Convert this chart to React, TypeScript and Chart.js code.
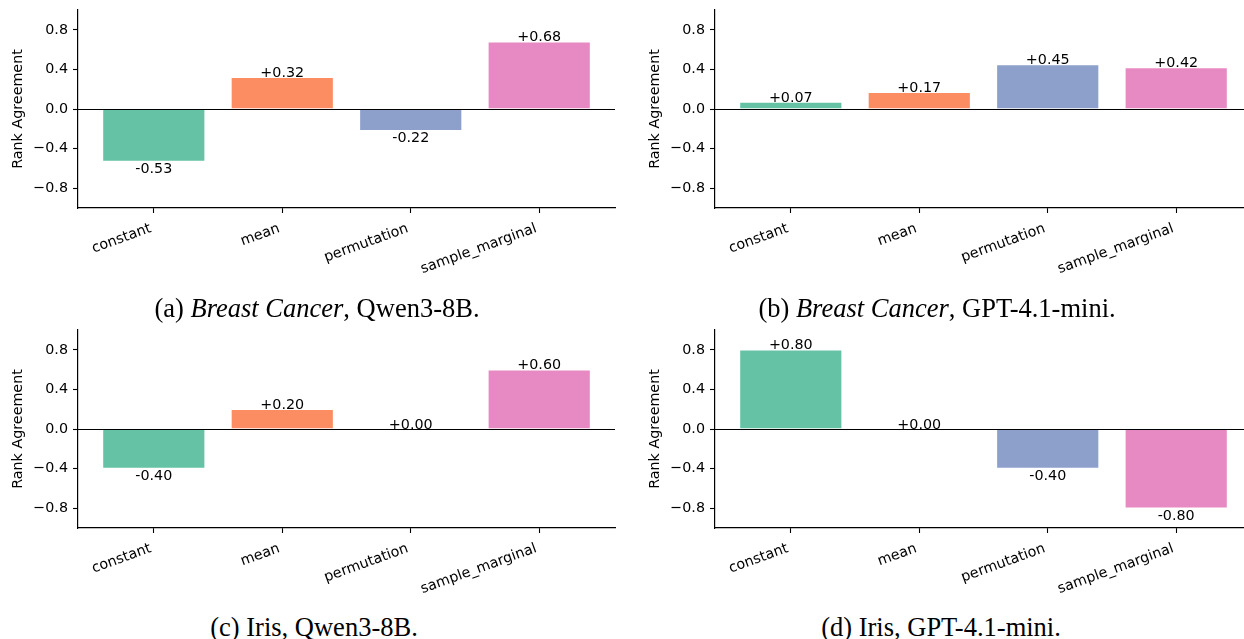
import React, { useEffect, useRef } from "react";
import { Chart, registerables } from "chart.js";

Chart.register(...registerables);

const categories = ["constant", "mean", "permutation", "sample_marginal"];
const barColors = ["#66c2a5", "#fc8d62", "#8da0cb", "#e78ac3"];
const yTicks = [-0.8, -0.4, 0, 0.4, 0.8];
const xTicks = [0, 1, 2, 3];
const breastCancerQwen = [-0.53, 0.32, -0.22, 0.68];
const breastCancerGpt = [0.07, 0.17, 0.45, 0.42];
const irisQwen = [-0.4, 0.2, 0.0, 0.6];
const irisGpt = [0.8, 0.0, -0.4, -0.8];

const FONT = '"DejaVu Sans", sans-serif';
const FS = 14.3;

const valueLabels = {
  id: "valueLabels",
  afterDatasetsDraw(chart: any) {
    const { ctx, chartArea } = chart;
    const yScale = chart.scales.y;
    const z = Math.round(yScale.getPixelForValue(0)) + 0.5;
    ctx.save();
    ctx.strokeStyle = "#000";
    ctx.lineWidth = 1.2;
    ctx.beginPath();
    ctx.moveTo(chartArea.left, z);
    ctx.lineTo(chartArea.right, z);
    ctx.stroke();
    const meta = chart.getDatasetMeta(0);
    const data = chart.data.datasets[0].data;
    ctx.font = FS + "px " + FONT;
    ctx.fillStyle = "#000";
    ctx.textAlign = "center";
    ctx.textBaseline = "alphabetic";
    meta.data.forEach((bar: any, i: number) => {
      const v = data[i].y;
      const label = v >= 0 ? "+" + v.toFixed(2) : v.toFixed(2);
      if (v >= 0) ctx.fillText(label, bar.x, bar.y - 0.5);
      else ctx.fillText(label, bar.x, bar.y + 11.5);
    });
    ctx.restore();
  },
};

function Panel({ values, left, top }: { values: number[]; left: number; top: number }) {
  const ref = useRef<HTMLCanvasElement>(null);
  useEffect(() => {
    const canvas = ref.current!;
    const chart = new Chart(canvas, {
      type: "bar",
      data: {
        datasets: [
          {
            data: values.map((v, i) => ({ x: i, y: v })),
            backgroundColor: barColors,
            borderColor: "rgba(255,255,255,0.6)",
            borderWidth: 0.8,
            categoryPercentage: 1,
            barPercentage: 0.8,
          } as any,
        ],
      },
      options: {
        animation: false,
        responsive: false,
        maintainAspectRatio: false,
        devicePixelRatio: 1,
        layout: { padding: { top: 10, right: 5, left: 0, bottom: 0 } },
        plugins: { legend: { display: false }, tooltip: { enabled: false } },
        scales: {
          x: {
            type: "linear",
            min: -0.59,
            max: 3.59,
            offset: false,
            afterBuildTicks: (s: any) => {
              s.ticks = xTicks.map((v) => ({ value: v }));
            },
            afterFit: (s: any) => {
              s.height = 82;
              s.paddingLeft = 0;
              s.paddingRight = 0;
            },
            grid: {
              offset: false,
              drawOnChartArea: false,
              drawTicks: true,
              tickLength: 5,
              tickColor: "#000",
              tickWidth: 1.1,
              color: "#000",
            },
            border: { display: true, color: "#000", width: 1.2 },
            ticks: {
              autoSkip: false,
              minRotation: 20,
              maxRotation: 20,
              padding: 7,
              labelOffset: -3,
              color: "#000",
              font: { family: FONT, size: FS },
              callback: (v: any) => categories[Math.round(Number(v))] ?? "",
            },
          },
          y: {
            type: "linear",
            min: -1,
            max: 1,
            afterBuildTicks: (s: any) => {
              s.ticks = yTicks.map((v) => ({ value: v }));
            },
            afterFit: (s: any) => {
              s.width = 78;
              s.paddingTop = 0;
              s.paddingBottom = 0;
            },
            grid: {
              drawOnChartArea: false,
              drawTicks: true,
              tickLength: 5,
              tickColor: "#000",
              tickWidth: 1.1,
              color: "#000",
            },
            border: { display: true, color: "#000", width: 1.2 },
            ticks: {
              padding: 5,
              color: "#000",
              font: { family: FONT, size: FS },
              callback: (v: any) => {
                const n = Number(v);
                if (Math.abs(n) < 1e-9) return "0.0";
                return n < 0 ? "\u2212" + Math.abs(n).toFixed(1) : n.toFixed(1);
              },
            },
            title: {
              display: true,
              text: "Rank Agreement",
              color: "#000",
              font: { family: FONT, size: FS },
              padding: { top: 9.4, bottom: 4 },
            },
          },
        },
      } as any,
      plugins: [valueLabels],
    });
    return () => chart.destroy();
  }, [values]);
  return (
    <canvas
      ref={ref}
      width={620}
      height={290}
      style={{ position: "absolute", left, top, width: 620, height: 290 }}
    />
  );
}

function Caption({ center, baseline, children }: { center: number; baseline: number; children: React.ReactNode }) {
  return (
    <div
      style={{
        position: "absolute",
        left: center - 300,
        width: 600,
        top: baseline - 22.5,
        textAlign: "center",
        fontFamily: '"Liberation Serif", serif',
        fontSize: 26.5,
        lineHeight: "26px",
        color: "#000",
        whiteSpace: "nowrap",
      }}
    >
      {children}
    </div>
  );
}

export default function App() {
  return (
    <div
      style={{
        position: "absolute",
        left: 0,
        top: 0,
        width: 1244,
        height: 639,
        overflow: "hidden",
        background: "#fff",
      }}
    >
      <Panel values={breastCancerQwen} left={0} top={0} />
      <Panel values={breastCancerGpt} left={637} top={0} />
      <Panel values={irisQwen} left={0} top={320} />
      <Panel values={irisGpt} left={637} top={320} />
      <Caption center={317} baseline={317}>
        (a) <i>Breast Cancer</i>, Qwen3-8B.
      </Caption>
      <Caption center={937} baseline={317}>
        (b) <i>Breast Cancer</i>, GPT-4.1-mini.
      </Caption>
      <Caption center={314} baseline={636}>
        (c) Iris, Qwen3-8B.
      </Caption>
      <Caption center={941} baseline={636}>
        (d) Iris, GPT-4.1-mini.
      </Caption>
    </div>
  );
}
